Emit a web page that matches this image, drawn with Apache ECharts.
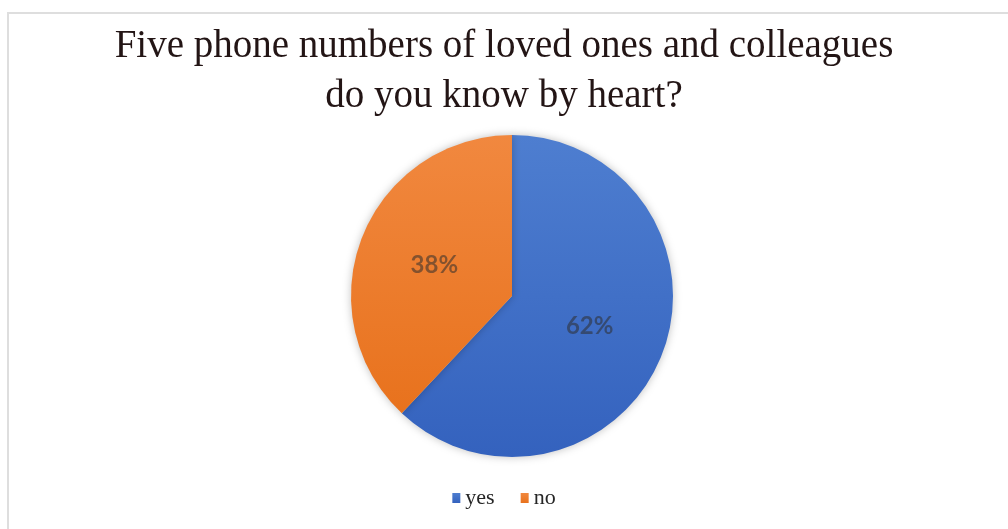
<!DOCTYPE html>
<html>
<head>
<meta charset="utf-8">
<script src="https://cdn.jsdelivr.net/npm/echarts@6/dist/echarts.min.js"></script>
<style>
  html, body { margin: 0; padding: 0; background: #ffffff; }
  #chart { width: 1008px; height: 529px; }
</style>
</head>
<body>
<div id="chart"></div>
<script>
// Survey answers and their shares (percent)
const categories = ['yes', 'no'];
const shares = [62, 38];
const sliceColors = [
  ['#4e7ed0', '#3462be'],
  ['#f1883f', '#e8721d']
];
const titleLines = ['Five phone numbers of loved ones and colleagues', 'do you know by heart?'];

const chart = echarts.init(document.getElementById('chart'), null, { renderer: 'canvas' });

const pieData = categories.map((name, i) => ({
  name: name,
  value: shares[i],
  itemStyle: {
    color: {
      type: 'linear', x: 0, y: 0, x2: 0, y2: 1,
      colorStops: [
        { offset: 0, color: sliceColors[i][0] },
        { offset: 1, color: sliceColors[i][1] }
      ]
    }
  }
}));

chart.setOption({
  backgroundColor: '#ffffff',
  animation: false,
  graphic: [{
    type: 'rect',
    shape: { x: 8, y: 13, width: 1020, height: 540 },
    style: { fill: 'none', stroke: '#dedede', lineWidth: 2 },
    silent: true
  }],
  title: {
    text: titleLines.join('\n'),
    left: 'center',
    top: 17,
    textStyle: {
      fontFamily: 'Liberation Serif',
      fontSize: 39,
      fontWeight: 'normal',
      color: '#231515',
      lineHeight: 50
    }
  },
  legend: {
    data: categories,
    left: 'center',
    top: 482,
    itemWidth: 8,
    itemHeight: 10,
    itemGap: 26,
    icon: 'rect',
    textStyle: {
      fontFamily: 'Liberation Serif',
      fontSize: 22,
      color: '#262626'
    }
  },
  series: [{
    type: 'pie',
    center: [512, 296],
    radius: [0, 161],
    startAngle: 90,
    clockwise: true,
    data: pieData,
    itemStyle: {
      shadowBlur: 8,
      shadowColor: 'rgba(0,0,0,0.25)'
    },
    label: {
      show: true,
      position: 'inside',
      formatter: '{d}%',
      fontFamily: 'Lato',
      fontWeight: 'bold',
      fontSize: 24,
      color: 'rgba(45,45,45,0.55)'
    },
    labelLine: { show: false },
    emphasis: { disabled: true }
  }]
});
</script>
</body>
</html>
